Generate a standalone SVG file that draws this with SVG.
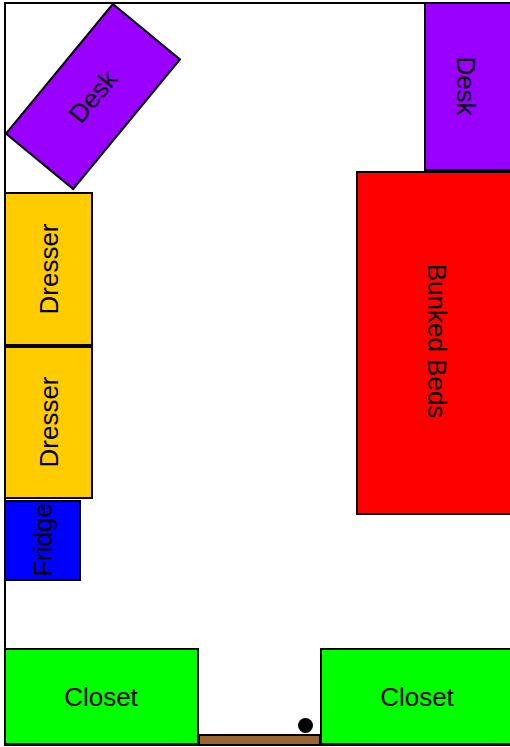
<svg xmlns="http://www.w3.org/2000/svg" width="510" height="747" viewBox="0 0 510 747">
<style>
.obj{stroke:#000;stroke-width:2}
.lbl{font-family:"Liberation Sans",Arial,sans-serif;font-size:26px;fill:#000;text-anchor:middle}
.desk{fill:#9900ff}
.dresser{fill:#ffcc00}
.closet{fill:#00ff00}
</style>
<rect width="510" height="747" fill="#fff"/>
<g id="room"><rect x="5" y="3" width="520" height="742" fill="none" stroke="#000" stroke-width="2"/></g>
<g id="desk-left" transform="translate(93,96.5) rotate(39.5)">
<rect class="obj desk" x="-43.5" y="-84" width="87" height="168"/>
<text class="lbl" transform="rotate(-90)" x="0" y="9">Desk</text>
</g>
<g id="desk-right">
<rect class="obj desk" x="425" y="3" width="90" height="167"/>
<text class="lbl" transform="translate(466,86) rotate(90)" x="0" y="9">Desk</text>
</g>
<g id="bunked-beds">
<rect class="obj" fill="#ff0000" x="357" y="172" width="160" height="342"/>
<text class="lbl" transform="translate(437,341) rotate(90)" x="0" y="9">Bunked Beds</text>
</g>
<g id="dresser-1">
<rect class="obj dresser" x="5" y="193" width="87" height="152"/>
<text class="lbl" transform="translate(49,269) rotate(-90)" x="0" y="9">Dresser</text>
</g>
<g id="dresser-2">
<rect class="obj dresser" x="5" y="347" width="87" height="151"/>
<text class="lbl" transform="translate(49,422) rotate(-90)" x="0" y="9">Dresser</text>
</g>
<g id="fridge">
<rect class="obj" fill="#0000ff" x="5" y="501" width="75" height="79"/>
<text class="lbl" transform="translate(43,540) rotate(-90)" x="0" y="9">Fridge</text>
</g>
<g id="closet-left">
<rect class="obj closet" x="5" y="649" width="193" height="95"/>
<text class="lbl" x="101" y="706">Closet</text>
</g>
<g id="closet-right">
<rect class="obj closet" x="321" y="649" width="195" height="95"/>
<text class="lbl" x="417" y="706">Closet</text>
</g>
<g id="door">
<rect class="obj" fill="#996633" x="199" y="735" width="121" height="10"/>
<circle cx="305.5" cy="725.5" r="7.5" fill="#000"/>
</g>
</svg>
